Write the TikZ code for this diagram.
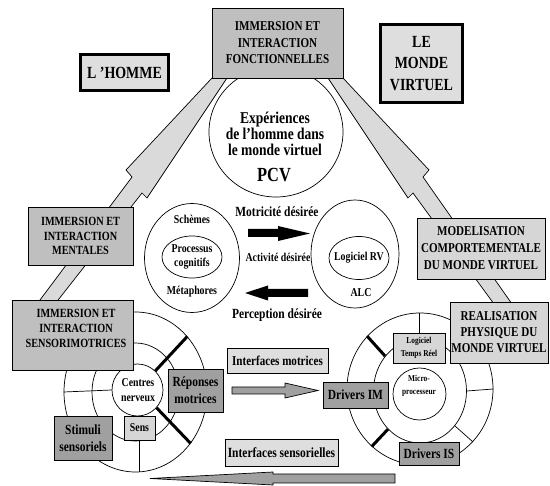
\documentclass[tikz,border=0pt]{standalone}
\usepackage{fontspec}
\setmainfont{Liberation Serif}[FakeStretch=0.82]
\usetikzlibrary{shapes.geometric}
\definecolor{gA}{HTML}{BFBFBF}
\definecolor{gB}{HTML}{DEDEDE}
\definecolor{gC}{HTML}{A0A0A0}
\definecolor{gD}{HTML}{D6D6D6}
\definecolor{bandc}{HTML}{DADADA}
\newcommand\myfs[2]{\fontsize{#1}{#2}\selectfont}
\begin{document}
\begin{tikzpicture}[x=1pt,y=-1pt,
  txt/.style={inner sep=0pt, align=center},
  bx/.style={draw, line width=0.8pt, inner sep=0pt, align=center},
  thickbx/.style={draw, line width=3pt, inner sep=0pt, align=center},
  ring/.style={draw, ellipse, line width=0.7pt, fill=white, inner sep=0pt},
  radial/.style={line width=0.7pt},
  heavy/.style={line width=3pt},
  bandshape/.style={draw, line width=0.7pt, fill=bandc},
  grayarrow/.style={draw, line width=0.7pt, fill=gC},
  every node/.append style={font=\bfseries}
]
\useasboundingbox (0,0) rectangle (550,486);
% bands
\path[bandshape] (212,78) -- (126,170) -- (132,177) -- (37,304) -- (55,304) -- (142,193) -- (147,198) -- (227,78) -- cycle;
\path[bandshape] (343,78) -- (429,170) -- (423,177) -- (512,304) -- (494,304) -- (413,193) -- (408,198) -- (328,78) -- cycle;
% big circle
\node[ring, minimum width=134pt, minimum height=130pt] (pcvc) at (276,132) {};
\node[bx, fill=gA, minimum width=131pt, minimum height=70pt, font=\bfseries\myfs{13.5}{16.5}] (fonc) at (277.5,43) {IMMERSION ET\\INTERACTION\\FONCTIONNELLES};
\node[txt, font=\bfseries\myfs{16.5}{16}] (exp) at (275,134) {Expériences\\de l’homme dans\\le monde virtuel};
\node[txt, font=\bfseries\myfs{20}{20}] (pcv) at (274,175) {PCV};
% corner boxes
\node[thickbx, fill=gB, minimum width=88pt, minimum height=36pt, font=\bfseries\myfs{17}{20}] (homme) at (124.5,72.5) {L ’HOMME};
\node[thickbx, fill=gB, minimum width=82pt, minimum height=78pt, font=\bfseries\myfs{17}{21.5}] (monde) at (421.5,63.5) {LE\\MONDE\\VIRTUEL};
% side boxes
\node[bx, fill=gA, minimum width=105pt, minimum height=58pt, font=\bfseries\myfs{12.5}{14.5}] (ment) at (80.5,236) {IMMERSION ET\\INTERACTION\\MENTALES};
\node[bx, fill=gD, minimum width=128pt, minimum height=61pt, font=\bfseries\myfs{13.5}{17}] (model) at (481,248.5) {MODELISATION\\COMPORTEMENTALE\\DU MONDE VIRTUEL};
% middle ellipses
\node[ring, minimum width=95pt, minimum height=109pt] (schL) at (192,258) {};
\node[ring, minimum width=60pt, minimum height=42pt] (procL) at (192,257) {};
\node[txt, font=\bfseries\myfs{12}{14}] (sch) at (192,219) {Schèmes};
\node[txt, font=\bfseries\myfs{12}{14}] (proc) at (192,257) {Processus\\cognitifs};
\node[txt, font=\bfseries\myfs{12}{14}] (meta) at (192,292) {Métaphores};
\node[ring, minimum width=88pt, minimum height=108pt] (alcR) at (355,254) {};
\node[ring, minimum width=60pt, minimum height=43pt] (rvR) at (359,258) {};
\node[txt, font=\bfseries\myfs{12}{14}] (lrv) at (359,258) {Logiciel RV};
\node[txt, font=\bfseries\myfs{12}{14}] (alc) at (361,293) {ALC};
\node[txt, font=\bfseries\myfs{14}{16}] (motd) at (277,212) {Motricité désirée};
\node[txt, font=\bfseries\myfs{12}{14}] (actd) at (278,257) {Activité désirée};
\node[txt, font=\bfseries\myfs{14}{16}] (perd) at (277,315) {Perception désirée};
\fill (248,229) -- (278,229) -- (278,226) -- (310,233.5) -- (278,241) -- (278,237) -- (248,237) -- cycle;
\fill (245,293) -- (268,285.5) -- (268,289) -- (308,289) -- (308,297) -- (268,297) -- (268,300.5) -- cycle;
% left disk
\node[ring, minimum width=143pt, minimum height=160pt] (outL) at (135.5,392) {};
\node[ring, minimum width=87pt, minimum height=98pt] (midL) at (135.5,392) {};
\node[ring, minimum width=51pt, minimum height=52pt] (inL) at (137.5,390) {};
\draw[radial] (outL.180) -- (inL.180);
\draw[heavy] (inL.47) -- (outL.47);
\draw[heavy] (inL.-43) -- (outL.-43);
\node[txt, font=\bfseries\myfs{12}{15}] (cn) at (138,390) {Centres\\nerveux};
\node[bx, fill=gD, minimum width=31pt, minimum height=24pt, font=\bfseries\myfs{12}{14}] (sens) at (139.5,428) {Sens};
\draw[radial] (sens.south) -- (sens.south |- outL.south);
\node[bx, fill=gC, minimum width=58pt, minimum height=44pt, font=\bfseries\myfs{14}{17}] (stim) at (83,438) {Stimuli\\sensoriels};
\node[bx, fill=gC, minimum width=55pt, minimum height=43pt, font=\bfseries\myfs{14}{17}] (rep) at (195.5,390.5) {Réponses\\motrices};
\node[bx, fill=gA, minimum width=121pt, minimum height=70pt] (sensori) at (72.5,335) {};
\node[txt, font=\bfseries\myfs{12.5}{15}] (sensorit) at (76,328) {IMMERSION ET\\INTERACTION\\SENSORIMOTRICES};
% interfaces
\node[bx, fill=gB, minimum width=101pt, minimum height=25pt, font=\bfseries\myfs{13.5}{16}] (imot) at (277.5,360.5) {Interfaces motrices};
\node[bx, fill=gB, minimum width=113pt, minimum height=27pt, font=\bfseries\myfs{14}{16}] (isens) at (281.5,452.5) {Interfaces sensorielles};
\path[grayarrow] (232,387) -- (285,387) -- (285,383) -- (318,390.5) -- (285,398) -- (285,394) -- (232,394) -- cycle;
\path[grayarrow] (150,478.5) -- (273,472) -- (273,474) -- (395,474) -- (395,483) -- (273,483) -- (273,485) -- cycle;
% right disk
\node[ring, minimum width=146pt, minimum height=152pt] (outR) at (420,389) {};
\node[ring, minimum width=93pt, minimum height=104pt] (midR) at (420,391) {};
\node[ring, minimum width=53pt, minimum height=52pt] (inR) at (419.5,394) {};
\draw[radial] (midR.0) -- (outR.0);
\draw[radial] (midR.-45) -- (outR.-45);
\draw[heavy] (midR.135) -- (outR.135);
\draw[heavy] (midR.-130) -- (outR.-130);
\node[txt, font=\bfseries\myfs{9}{13}] (micro) at (419,386) {Micro-\\processeur};
\node[bx, fill=gD, minimum width=52pt, minimum height=30pt, font=\bfseries\myfs{9}{13}] (ltr) at (419,348) {Logiciel\\Temps Réel};
\draw[radial] (ltr.north) -- (ltr.north |- outR.north);
\node[bx, fill=gC, minimum width=65pt, minimum height=26pt, font=\bfseries\myfs{14}{16}] (dim) at (355.5,395) {Drivers IM};
\node[bx, fill=gC, minimum width=60pt, minimum height=23pt, font=\bfseries\myfs{14}{16}] (dis) at (429,453.5) {Drivers IS};
\node[bx, fill=gD, minimum width=98pt, minimum height=61pt, font=\bfseries\myfs{13.5}{16}] (real) at (499,332.5) {REALISATION\\PHYSIQUE DU\\MONDE VIRTUEL};
\end{tikzpicture}
\end{document}
